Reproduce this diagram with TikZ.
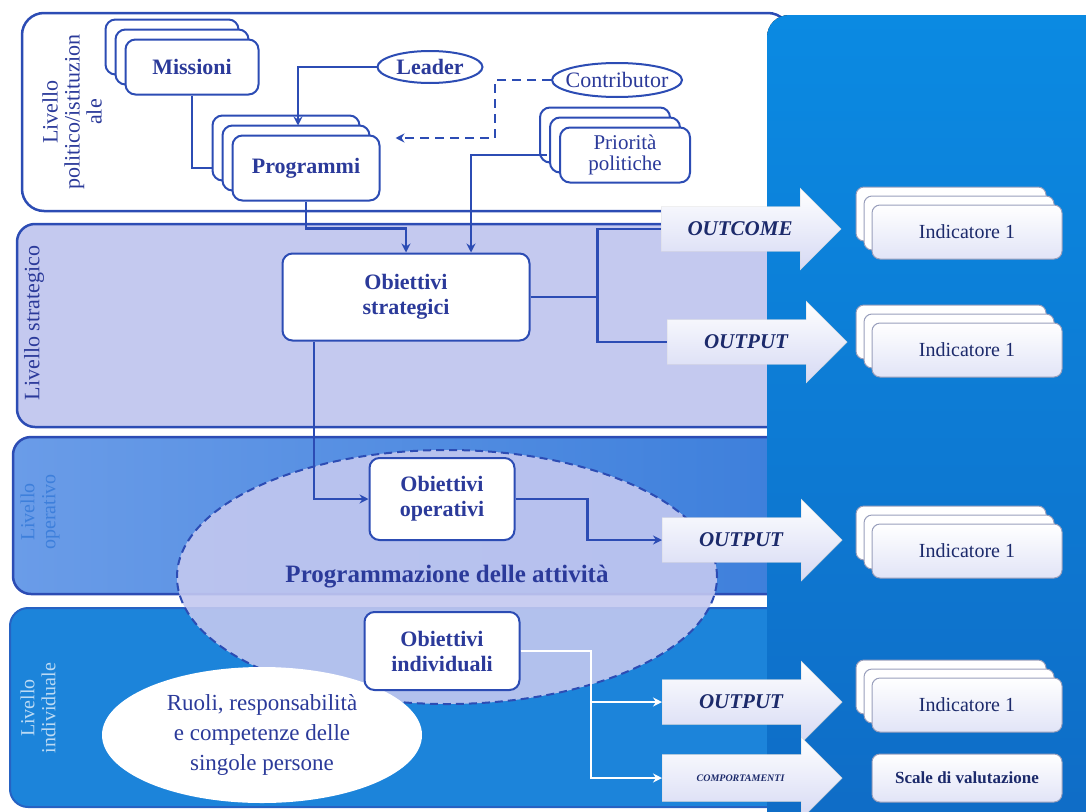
\documentclass[tikz,border=0pt]{standalone}
\usepackage{fontspec}
\setmainfont{Liberation Serif}
\usetikzlibrary{shapes.geometric,shapes.arrows,shadows,arrows.meta}

\definecolor{linec}{HTML}{2C4CB4}
\definecolor{textc}{HTML}{2B3A9A}
\definecolor{navyc}{HTML}{1C2A6B}
\definecolor{lavc}{HTML}{C4C9EF}
\definecolor{panelc}{HTML}{0B8AE2}
\definecolor{paneld}{HTML}{0F6BC5}
\definecolor{operc}{HTML}{6A9CE8}
\definecolor{operd}{HTML}{3D7FDB}
\definecolor{indivc}{HTML}{1C84DA}
\definecolor{ellc}{HTML}{C3C8F0}

\tikzset{
  plain/.style={draw=linec, line width=2.2pt},
  conn/.style={plain, -{Stealth[length=9pt,width=9pt]}},
  wconn/.style={draw=white, line width=2pt, -{Stealth[length=9pt,width=9pt]}},
  box/.style={draw=linec, line width=2pt, fill=white, rounded corners=10pt,
    align=center, text=textc, inner sep=3pt, font=\fontsize{22}{25}\selectfont\bfseries},
  stackbox/.style={box,
    copy shadow={shadow xshift=-20pt, shadow yshift=20pt, draw=linec, fill=white, line width=2pt},
    copy shadow={shadow xshift=-10pt, shadow yshift=10pt, draw=linec, fill=white, line width=2pt}},
  actor/.style={ellipse, draw=linec, line width=2pt, fill=white, text=textc,
    font=\fontsize{22}{24}\selectfont},
  levellabel/.style={rotate=90, align=center, font=\fontsize{22}{22}\selectfont},
  bigarrow/.style={single arrow, single arrow head extend=17pt, minimum height=180pt,
    minimum width=82pt, inner xsep=3pt, inner ysep=13pt, top color=white, bottom color=lavc!70,
    draw=gray!30, text=navyc, font=\fontsize{21}{22}\selectfont\bfseries\itshape, anchor=tail},
  indbox/.style={draw=navyc!45, line width=1pt, top color=white, bottom color=lavc!50, rounded corners=8pt,
    minimum width=190pt, minimum height=54pt, text=navyc, font=\fontsize{20}{22}\selectfont},
  indstack/.style={indbox,
    copy shadow={shadow xshift=-16pt, shadow yshift=18pt, draw=navyc!45, fill=white, line width=1pt},
    copy shadow={shadow xshift=-8pt, shadow yshift=9pt, draw=navyc!45, fill=white, line width=1pt}}
}

\begin{document}
\begin{tikzpicture}[x=1pt, y=-1pt]
  \useasboundingbox (0,0) rectangle (1086,811);
  % levels
  \draw[draw=linec, line width=2.5pt, fill=white, rounded corners=22pt] (22,13) rectangle (790,211);
  \draw[draw=linec, line width=2.5pt, fill=lavc, rounded corners=18pt] (17,224) rectangle (790,427);
  \draw[draw=linec, line width=2.5pt, left color=operc, right color=operd, rounded corners=18pt] (13,437) rectangle (790,594);
  \draw[draw=linec!60!indivc, line width=2pt, fill=indivc, rounded corners=18pt] (10,608) rectangle (790,807);
  % indicator panel
  \fill[top color=panelc, bottom color=paneld, rounded corners=22pt] (767,15) rectangle (1130,860);

  \node[ellipse, draw=linec, line width=2pt, dash pattern=on 8pt off 5pt, fill=ellc, fill opacity=.9,
    text opacity=1, minimum width=540pt, minimum height=254pt, text=textc,
    font=\fontsize{25}{27}\selectfont\bfseries] (attiv) at (447,577) {Programmazione delle attività};
  \node[ellipse, fill=white, minimum width=320pt, minimum height=136pt, inner sep=0pt, align=center,
    text=textc, font=\fontsize{23}{30}\selectfont] (ruoli) at (262,735) {Ruoli, responsabilità\\e competenze delle\\singole persone};

  \node[levellabel, text=textc] (lvpol) at (72,112) {Livello\\politico/istituzion\\ale};
  \node[levellabel, text=textc] (lvstr) at (34,323) {Livello strategico};
  \node[levellabel, text=operd, font=\fontsize{20}{21}\selectfont] (lvope) at (40,512) {Livello\\operativo};
  \node[levellabel, text=white!70!indivc, font=\fontsize{20}{21}\selectfont] (lvind) at (38,708) {Livello\\individuale};

  \node[stackbox, minimum width=133pt, minimum height=55pt] (miss) at (192,67) {Missioni};
  \node[stackbox, minimum width=147pt, minimum height=65pt] (prog) at (306,168) {Programmi};
  \node[actor, font=\fontsize{22}{24}\selectfont\bfseries, inner sep=1pt, minimum width=105pt, minimum height=32pt] (lead) at (430,67) {Leader};
  \node[actor, inner xsep=-8pt, inner ysep=0pt, minimum width=130pt, minimum height=34pt] (contr) at (617,80) {Contributor};
  \node[stackbox, font=\fontsize{21}{21}\selectfont, minimum width=130pt, minimum height=55pt] (prio) at (625,155) {Priorità\\politiche};
  \node[box, minimum width=247pt, minimum height=87pt] (strat) at (406,297) {Obiettivi\\strategici};
  \node[box, minimum width=145pt, minimum height=82pt] (oper) at (442,499) {Obiettivi\\operativi};
  \node[box, minimum width=155pt, minimum height=78pt] (indiv) at (442,651) {Obiettivi\\individuali};

  \node[bigarrow] (outc) at (661,229) {OUTCOME};
  \node[bigarrow] (outp1) at (667,342) {OUTPUT};
  \node[bigarrow] (outp2) at (662,540) {OUTPUT};
  \node[bigarrow] (outp3) at (662,702) {OUTPUT};
  \node[bigarrow, font=\fontsize{10}{11}\selectfont\bfseries\itshape, inner ysep=19pt] (comp) at (662,778) {COMPORTAMENTI};

  \node[indstack] (ind1) at (967,232) {Indicatore 1};
  \node[indstack] (ind2) at (967,350) {Indicatore 1};
  \node[indstack] (ind3) at (967,551) {Indicatore 1};
  \node[indstack] (ind4) at (967,705) {Indicatore 1};
  \node[indbox, minimum height=48pt, font=\fontsize{17}{19}\selectfont\bfseries] (scale) at (967,778) {Scale di valutazione};

  \draw[plain, shorten >=19pt] (miss.south) |- (prog.west);
  \draw[conn, shorten >=9pt] (lead.west) -| ([xshift=-8pt]prog.north);
  \draw[conn, dash pattern=on 9pt off 6pt, shorten >=15pt] (contr.west) -- ++(-56,0) |- ([yshift=30pt]prog.east);
  \draw[conn] (prog.south) -- ++(0,27) -| (strat.north);
  \draw[conn, shorten <=12pt] (prio.west) -| ([xshift=65pt]strat.north);
  \draw[plain] (strat.east) -- ++(67,0) |- (outc.west);
  \draw[plain] (strat.east) -- ++(67,0) |- (outp1.west);
  \draw[conn] ([xshift=-92pt]strat.south) |- (oper.west);
  \draw[conn] (oper.east) -- ++(72,0) |- (outp2.west);
  \draw[wconn] (indiv.east) -- ++(70,0) |- (outp3.west);
  \draw[wconn] (indiv.east) -- ++(70,0) |- (comp.west);
\end{tikzpicture}
\end{document}
